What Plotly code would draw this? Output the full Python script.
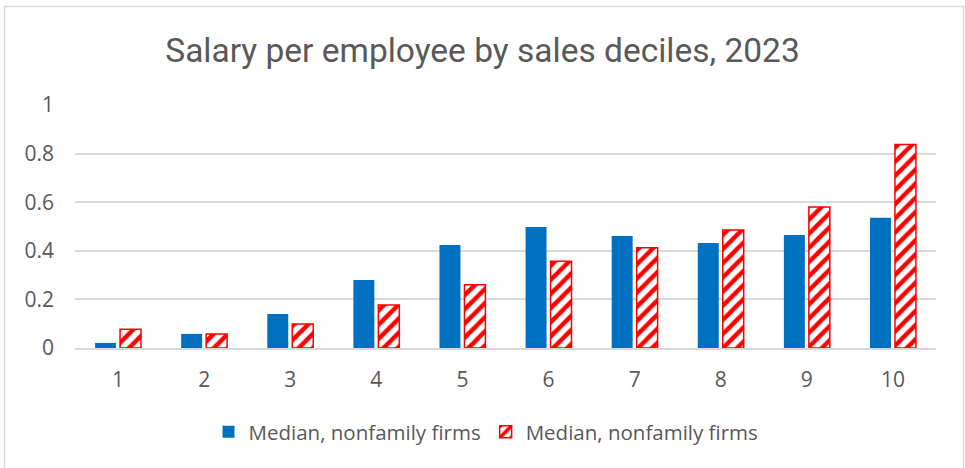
import plotly.graph_objects as go

# Sales deciles and median salary per employee
deciles = ["1", "2", "3", "4", "5", "6", "7", "8", "9", "10"]
series_a_name = "Median, nonfamily firms"
series_a = [0.021, 0.058, 0.14, 0.28, 0.424, 0.498, 0.461, 0.432, 0.465, 0.536]
series_b_name = "Median, nonfamily firms"
series_b = [0.077, 0.058, 0.099, 0.177, 0.26, 0.357, 0.413, 0.486, 0.58, 0.837]
y_ticks = [0, 0.2, 0.4, 0.6, 0.8, 1]
y_tick_text = ["0", "0.2", "0.4", "0.6", "0.8", "1"]
title_text = "Salary per employee by sales deciles, 2023"

GREY_TEXT = "#595959"
GRID = "#D9D9D9"
BLUE = "#0070C0"
RED = "#FF0000"

fig = go.Figure()
fig.add_trace(go.Bar(
    x=deciles, y=series_a, name=series_a_name,
    marker=dict(color=BLUE, line=dict(width=0)),
))
fig.add_trace(go.Bar(
    x=deciles, y=series_b, name=series_b_name,
    marker=dict(
        color="white",
        line=dict(color=RED, width=1.5),
        pattern=dict(shape="/", fgcolor=RED, bgcolor="white",
                     size=10, solidity=0.45, fillmode="replace"),
    ),
))

W, H = 965, 468
ML, MR, MT, MB = 75, 29, 105, 120
pw, ph = W - ML - MR, H - MT - MB


def px_x(x):
    return (x - ML) / pw


def px_y(y):
    return (H - MB - y) / ph


fig.update_layout(
    width=W, height=H,
    margin=dict(l=ML, r=MR, t=MT, b=MB, autoexpand=False),
    paper_bgcolor="white", plot_bgcolor="white",
    barmode="group", bargap=0.42, bargroupgap=0.16,
    font=dict(family="Open Sans, Liberation Sans, sans-serif", color=GREY_TEXT, size=20),
    title=dict(
        text=title_text,
        x=0.5, xanchor="center", xref="container",
        y=1 - 50 / H, yanchor="middle", yref="container",
        font=dict(family="Roboto, sans-serif", size=33.5, color=GREY_TEXT),
    ),
    showlegend=True,
    legend=dict(
        orientation="h",
        xref="container", yref="container",
        x=486 / W, xanchor="center",
        y=1 - 432 / H, yanchor="middle",
        font=dict(size=20.5, color=GREY_TEXT),
        itemclick=False, itemdoubleclick=False,
        tracegroupgap=0,
    ),
    xaxis=dict(
        showgrid=False, showline=True, linecolor=GRID, linewidth=1.5,
        ticks="", ticklabelstandoff=12, tickfont=dict(size=21, color=GREY_TEXT),
        fixedrange=True,
    ),
    yaxis=dict(
        range=[0, 1], tickvals=y_ticks, ticktext=y_tick_text,
        showgrid=True, gridcolor=GRID, gridwidth=1.5,
        zeroline=False, showline=False,
        ticks="", ticklabelstandoff=20, tickfont=dict(size=21, color=GREY_TEXT),
        fixedrange=True,
    ),
    shapes=[
        dict(type="rect", xref="paper", yref="paper",
             x0=px_x(4.5), x1=px_x(963.5), y0=px_y(475), y1=px_y(6.5),
             line=dict(color=GRID, width=1.5), fillcolor="rgba(0,0,0,0)", layer="below"),
    ],
)

fig.write_html("out.html", config=dict(displayModeBar=False))
